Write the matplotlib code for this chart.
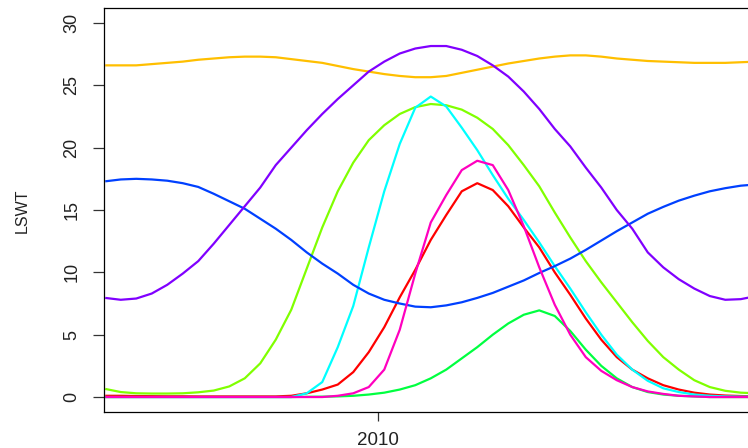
import matplotlib
matplotlib.use("Agg")
import matplotlib.pyplot as plt
import numpy as np

plt.rcParams['font.family'] = ['Liberation Sans', 'DejaVu Sans']

# time in decimal years, one sample every 0.025 yr
t = [2009.56 + 0.025 * k for k in range(43)]

red = [0.1, 0.1, 0.08, 0.07, 0.06, 0.06, 0.05, 0.05, 0.05, 0.05, 0.05, 0.05,
       0.1, 0.3, 0.6, 1.0, 2.0, 3.6, 5.6, 8.0, 10.2, 12.6, 14.6, 16.5, 17.15,
       16.6, 15.3, 13.6, 12.0, 10.0, 8.2, 6.3, 4.6, 3.2, 2.2, 1.5, 0.95, 0.6,
       0.35, 0.2, 0.12, 0.08, 0.05]
orange = [26.6, 26.6, 26.6, 26.7, 26.8, 26.9, 27.05, 27.15, 27.25, 27.3, 27.3,
          27.25, 27.1, 26.95, 26.8, 26.55, 26.3, 26.1, 25.9, 25.75, 25.65,
          25.65, 25.75, 26.0, 26.25, 26.5, 26.75, 26.95, 27.15, 27.3, 27.4,
          27.4, 27.3, 27.15, 27.05, 26.95, 26.9, 26.85, 26.8, 26.8, 26.8,
          26.85, 26.9]
lime = [0.65, 0.4, 0.3, 0.28, 0.28, 0.3, 0.38, 0.52, 0.85, 1.5, 2.7, 4.6, 7.0,
        10.3, 13.6, 16.5, 18.8, 20.6, 21.8, 22.7, 23.25, 23.5, 23.4, 23.05,
        22.4, 21.5, 20.2, 18.6, 16.9, 14.8, 12.8, 10.9, 9.2, 7.6, 6.0, 4.5,
        3.2, 2.2, 1.35, 0.8, 0.5, 0.35, 0.3]
green = [0.0, 0.0, 0.0, 0.0, 0.0, 0.0, 0.0, 0.0, 0.0, 0.0, 0.0, 0.0, 0.0, 0.02,
         0.03, 0.05, 0.1, 0.2, 0.35, 0.6, 0.95, 1.5, 2.2, 3.1, 4.0, 5.0, 5.9,
         6.6, 6.95, 6.5, 5.3, 3.8, 2.5, 1.5, 0.8, 0.4, 0.2, 0.1, 0.05, 0.0,
         0.0, 0.0, 0.0]
cyan = [0.0, 0.0, 0.0, 0.0, 0.0, 0.0, 0.0, 0.0, 0.0, 0.0, 0.0, 0.0, 0.0, 0.3,
        1.2, 4.0, 7.3, 12.0, 16.5, 20.3, 23.2, 24.1, 23.3, 21.6, 19.8, 17.8,
        15.9, 14.2, 12.4, 10.5, 8.7, 6.8, 5.0, 3.4, 2.2, 1.3, 0.7, 0.4, 0.2,
        0.1, 0.05, 0.03, 0.02]
blue = [17.3, 17.45, 17.5, 17.45, 17.35, 17.15, 16.85, 16.3, 15.7, 15.1, 14.3,
        13.5, 12.6, 11.6, 10.7, 9.9, 9.0, 8.3, 7.8, 7.5, 7.25, 7.2, 7.35, 7.6,
        7.95, 8.35, 8.85, 9.35, 9.95, 10.5, 11.1, 11.8, 12.55, 13.3, 14.0,
        14.7, 15.25, 15.75, 16.15, 16.5, 16.75, 16.95, 17.05]
purple = [7.95, 7.8, 7.9, 8.3, 9.0, 9.9, 10.9, 12.3, 13.8, 15.3, 16.8, 18.6,
          20.0, 21.4, 22.7, 23.9, 25.0, 26.1, 26.9, 27.55, 27.95, 28.15,
          28.15, 27.85, 27.35, 26.6, 25.7, 24.5, 23.1, 21.5, 20.1, 18.4, 16.8,
          15.0, 13.5, 11.6, 10.4, 9.45, 8.7, 8.1, 7.8, 7.85, 8.1]
magenta = [0.0, 0.0, 0.0, 0.0, 0.0, 0.0, 0.0, 0.0, 0.0, 0.0, 0.0, 0.0, 0.0,
           0.0, 0.0, 0.1, 0.3, 0.8, 2.2, 5.4, 9.9, 14.0, 16.2, 18.2, 18.95,
           18.6, 16.6, 13.7, 10.4, 7.4, 5.0, 3.2, 2.1, 1.35, 0.8, 0.45, 0.25,
           0.1, 0.05, 0.0, 0.0, 0.0, 0.0]

series = [red, orange, lime, green, cyan, blue, purple, magenta]
# R rainbow(8)
colours = ['#FF0000', '#FFBF00', '#80FF00', '#00FF40',
           '#00FFFF', '#0040FF', '#8000FF', '#FF00BF']

fig = plt.figure(figsize=(7.48, 4.48), dpi=100)
# axes run past the right edge of the picture, as in the cropped original
ax = fig.add_axes([104/748, 36/448, 656/748, 404/448])

for s, c in zip(series, colours):
    ax.plot(t, s, color=c, lw=1.6, solid_capstyle='butt')

ax.set_xlim(2009.558, 2010.616)
ax.set_ylim(-1.2, 31.2)

ax.set_yticks([0, 5, 10, 15, 20, 25, 30])
ax.set_yticklabels(['0', '5', '10', '15', '20', '25', '30'], rotation=90,
                   va='center', fontsize=13)
ax.set_xticks([2010])
ax.set_xticklabels(['2010'], fontsize=13.5)
ax.tick_params(axis='y', length=8, width=0.9, pad=9, colors='#333333')
ax.tick_params(axis='x', length=6.5, width=0.9, pad=8, colors='#333333')
for lab in ax.get_xticklabels() + ax.get_yticklabels():
    lab.set_color('#222222')
for sp in ax.spines.values():
    sp.set_linewidth(0.9)
    sp.set_color('black')

fig.text(22/748, 1 - 211/448, 'LSWT', rotation=90, ha='center', va='center',
         fontsize=11.5, color='#222222')

fig.savefig('out.png', dpi=100)
